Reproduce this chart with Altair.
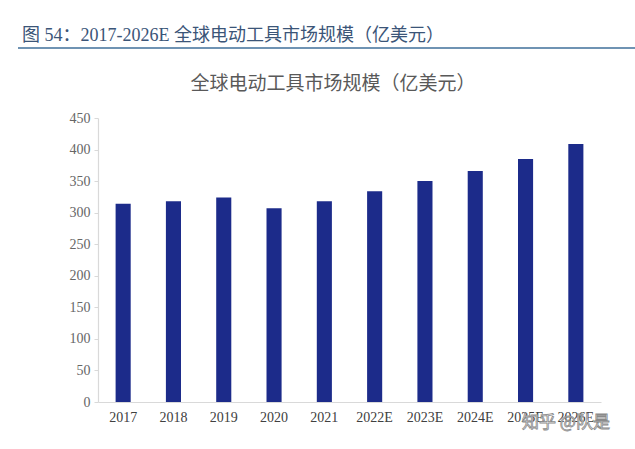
import altair as alt
import pandas as pd

years = ["2017", "2018", "2019", "2020", "2021", "2022E", "2023E", "2024E", "2025E", "2026E"]
values = [314, 318, 324, 307, 318, 334, 350, 366, 385, 409]
y_ticks = [0, 50, 100, 150, 200, 250, 300, 350, 400, 450]

header = "图 54：2017-2026E 全球电动工具市场规模（亿美元）"
chart_title = "全球电动工具市场规模（亿美元）"
watermark = "知乎 @队是"

df = pd.DataFrame({"year": years, "value": values})

bars = alt.Chart(df).mark_bar(color="#1c2b8a").encode(
    x=alt.X("year:N", sort=years, title=None,
            scale=alt.Scale(paddingInner=0.7, paddingOuter=0.35),
            axis=alt.Axis(labelAngle=0, labelFont="Liberation Serif", labelFontSize=14,
                          labelColor="#404040", labelPadding=8, ticks=False,
                          domainColor="#d9d9d9", domainWidth=1.2)),
    y=alt.Y("value:Q", title=None,
            scale=alt.Scale(domain=[0, 450]),
            axis=alt.Axis(values=y_ticks, grid=False, labelFont="Liberation Sans Narrow",
                          labelFontSize=14, labelColor="#666666", labelPadding=4,
                          tickSize=4, tickColor="#d9d9d9", domainColor="#d9d9d9",
                          domainWidth=1.2)),
)

hdr = alt.Chart(pd.DataFrame({"t": [header]})).mark_text(
    align="left", baseline="alphabetic", fontSize=18,
    font="Liberation Serif, Noto Sans CJK SC", color="#3b5578"
).encode(text="t:N", x=alt.value(-76), y=alt.value(-77))

hline = alt.Chart(pd.DataFrame({"a": [0]})).mark_rule(
    color="#6f93b3", strokeWidth=2
).encode(x=alt.value(-80), x2=alt.value(540), y=alt.value(-70))

ttl = alt.Chart(pd.DataFrame({"t": [chart_title]})).mark_text(
    align="center", baseline="alphabetic", fontSize=19,
    font="Noto Sans CJK SC", color="#595959"
).encode(text="t:N", x=alt.value(235), y=alt.value(-28))

wm = alt.Chart(pd.DataFrame({"t": [watermark]})).mark_text(
    align="left", baseline="middle", fontSize=17,
    font="Noto Sans CJK SC", color="#ffffff", stroke="#8a8a8a", strokeWidth=0.8
).encode(text="t:N", x=alt.value(424), y=alt.value(305))

chart = alt.layer(bars, hdr, hline, ttl, wm).properties(
    width=503, height=284,
    autosize=alt.AutoSizeParams(type="none"),
    padding={"left": 98, "top": 118, "right": 34, "bottom": 47},
).configure_view(stroke=None)

chart.save("out.html", embed_options={"renderer": "svg", "actions": False})
